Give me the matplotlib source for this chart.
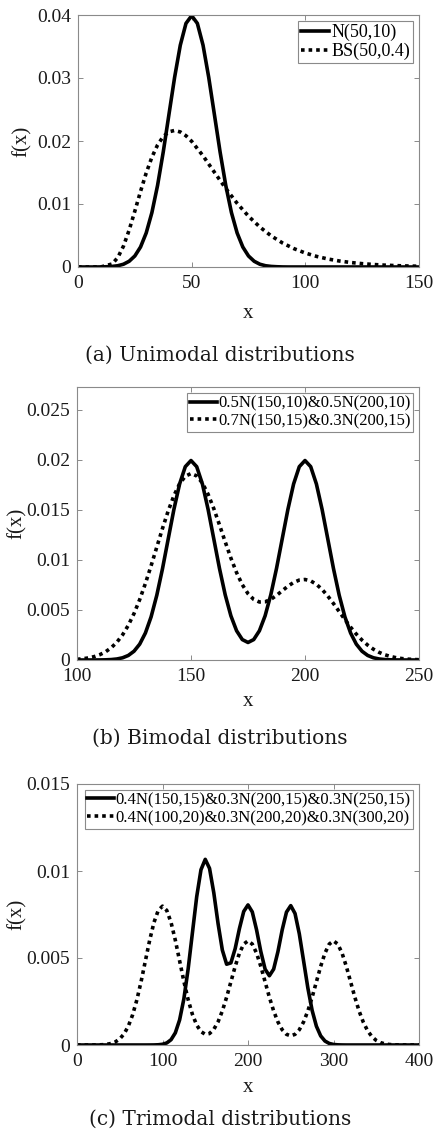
import numpy as np
import matplotlib
matplotlib.use("Agg")
import matplotlib.pyplot as plt

# ---------------- data ----------------
# (a) Unimodal
a_norm_x = np.arange(0, 150.01, 2.5)
a_norm_y = [0, 0, 0, 0, 0.00001, 0.00004, 0.00009, 0.0002, 0.00044, 0.00091,
            0.00175, 0.00317, 0.0054, 0.00863, 0.01295, 0.01826, 0.0242, 0.03011,
            0.03521, 0.03867, 0.03989, 0.03867, 0.03521, 0.03011, 0.0242, 0.01826,
            0.01295, 0.00863, 0.0054, 0.00317, 0.00175, 0.00091, 0.00044, 0.0002,
            0.00009, 0.00004, 0.00001] + [0] * 24
a_bs_x = [0, 5, 10, 15, 17.5, 20, 22.5, 25, 27.5, 30, 32.5, 35, 37.5, 40, 42.5, 45,
          47.5, 50, 55, 60, 65, 70, 75, 80, 85, 90, 95, 100, 105, 110, 115, 120,
          125, 130, 135, 140, 145, 150]
a_bs_y = [0, 0, 0.000006, 0.000479, 0.001496, 0.003314, 0.005862, 0.008869,
          0.011993, 0.014922, 0.017426, 0.019371, 0.020711, 0.02146, 0.021675,
          0.021437, 0.020832, 0.019947, 0.017646, 0.01504, 0.012465, 0.01011,
          0.008063, 0.006343, 0.004935, 0.003807, 0.002914, 0.002217, 0.001678,
          0.001265, 0.00095, 0.000711, 0.00053, 0.000395, 0.000293, 0.000217,
          0.000161, 0.000119]
a_labels = ["N(50,10)", "BS(50,0.4)"]

# (b) Bimodal
b_x = np.arange(100, 250.01, 2.5)
b_solid_y = [0, 0, 0.0000008, 0.0000024, 0.0000067, 0.0000176, 0.0000437, 0.0001015,
             0.0002216, 0.0004546, 0.0008765, 0.001587, 0.0027, 0.004314, 0.006476,
             0.009132, 0.012098, 0.015057, 0.017603, 0.019333, 0.019947, 0.019333,
             0.017604, 0.015059, 0.012105, 0.00915, 0.00652, 0.004416, 0.002922,
             0.002042, 0.001753,
             0.002042, 0.002922, 0.004416, 0.00652, 0.00915, 0.012105, 0.015059,
             0.017604, 0.019333, 0.019947, 0.019333, 0.017603, 0.015057, 0.012098,
             0.009132, 0.006476, 0.004314, 0.0027, 0.001587, 0.000877, 0.000455,
             0.000222, 0.000102, 0.000044, 0.000018, 0.0000067, 0.0000024,
             0.0000008, 0, 0]
b_dot_y = [0.000072, 0.000124, 0.000207, 0.000336, 0.000532, 0.000818, 0.001224,
           0.001781, 0.00252, 0.003468, 0.004642, 0.006044, 0.007654, 0.009426,
           0.011293, 0.013157, 0.01491, 0.016434, 0.017621, 0.018377, 0.018648,
           0.018413, 0.0177, 0.016573, 0.015135, 0.013507, 0.011816, 0.010189,
           0.008734, 0.00753, 0.006632,
           0.006058, 0.0058, 0.005821, 0.006063, 0.006456, 0.006921, 0.007378,
           0.007754, 0.007993, 0.008051, 0.007909, 0.00757, 0.007053, 0.006395,
           0.005641, 0.004841, 0.004041, 0.00328, 0.00259, 0.00199, 0.001486,
           0.00108, 0.000763, 0.000524, 0.000351, 0.000228, 0.000144, 0.000089,
           0.000053, 0.000031]
b_labels = ["0.5N(150,10)&0.5N(200,10)", "0.7N(150,15)&0.3N(200,15)"]

# (c) Trimodal
c_x = np.arange(0, 400.01, 5)
c_solid_y = [0] * 17 + [
    0.000001, 0.0000036, 0.0000128, 0.0000411, 0.000118, 0.000304, 0.000699,
    0.00144, 0.002653, 0.004373, 0.006453, 0.008521, 0.010073, 0.010669,
    0.010152, 0.008746, 0.006976, 0.005453, 0.004643, 0.00472, 0.005539,
    0.006696, 0.007675, 0.008051, 0.007649, 0.006621, 0.005365, 0.00436,
    0.003979, 0.00436, 0.005364, 0.006617, 0.007636, 0.00801, 0.007557,
    0.006392, 0.00484, 0.00328, 0.00199, 0.00108, 0.000524, 0.000228,
    0.0000887, 0.0000309, 0.0000096, 0.0000027] + [0] * 18
c_dot_y = [0, 0, 0] + [
    0.000001, 0.0000027, 0.0000071, 0.0000175, 0.0000406, 0.0000886, 0.000182,
    0.000351, 0.000635, 0.00108, 0.001726, 0.00259, 0.003653, 0.004839, 0.006023,
    0.007041, 0.007733, 0.007979, 0.007733, 0.007042, 0.006023, 0.004841,
    0.003658, 0.002603, 0.001756, 0.001146, 0.000771, 0.000614, 0.000658,
    0.000899, 0.001335, 0.00196, 0.002747, 0.003632, 0.004518, 0.005281, 0.0058,
    0.005984, 0.0058, 0.005281, 0.004518, 0.003632, 0.002745, 0.001956, 0.001325,
    0.000876, 0.000613, 0.000526, 0.000613, 0.000876, 0.001325, 0.001956,
    0.002745, 0.003632, 0.004518, 0.005281, 0.0058, 0.005984, 0.0058, 0.005281,
    0.004517, 0.00363, 0.00274, 0.001943, 0.001294, 0.00081, 0.000476, 0.000263,
    0.000136, 0.0000665, 0.0000305, 0.0000131, 0.0000053, 0.000002] + [0] * 4
c_labels = ["0.4N(150,15)&0.3N(200,15)&0.3N(250,15)",
            "0.4N(100,20)&0.3N(200,20)&0.3N(300,20)"]

a_xticks = [0, 50, 100, 150]
a_yticks = [0, 0.01, 0.02, 0.03, 0.04]
a_ytl = ["0", "0.01", "0.02", "0.03", "0.04"]
b_xticks = [100, 150, 200, 250]
b_yticks = [0, 0.005, 0.01, 0.015, 0.02, 0.025]
b_ytl = ["0", "0.005", "0.01", "0.015", "0.02", "0.025"]
c_xticks = [0, 100, 200, 300, 400]
c_yticks = [0, 0.005, 0.01, 0.015]
c_ytl = ["0", "0.005", "0.01", "0.015"]
captions = ["(a) Unimodal distributions", "(b) Bimodal distributions",
            "(c) Trimodal distributions"]

# ---------------- drawing ----------------
W, H = 436, 1131
fig = plt.figure(figsize=(W / 100, H / 100), dpi=100)
serif = "Liberation Serif"
GRAY = "#8a8a8a"
TXT = "#1a1a1a"


def px_axes(l, t, r, b):
    return fig.add_axes([l / W, 1 - b / H, (r - l) / W, (b - t) / H])


def style(ax, xlim, ylim, xt, yt, ytl):
    ax.set_xlim(*xlim)
    ax.set_ylim(*ylim)
    ax.set_xticks(xt)
    ax.set_xticklabels([str(v) for v in xt])
    ax.set_yticks(yt)
    ax.set_yticklabels(ytl)
    for s in ax.spines.values():
        s.set_color(GRAY)
        s.set_linewidth(0.8)
    ax.tick_params(direction="in", top=True, right=True, length=3.5, width=0.7,
                   color=GRAY, labelsize=14, labelcolor=TXT)
    ax.tick_params(axis="x", pad=6)
    ax.tick_params(axis="y", pad=5)
    for lab in ax.get_xticklabels() + ax.get_yticklabels():
        lab.set_family(serif)


LW = 2.6
DOT = (0, (1, 1.1))


def legend(ax, labels, fs):
    lg = ax.legend(labels, loc="upper right", prop={"family": serif, "size": fs},
                   frameon=True, fancybox=False, framealpha=1, edgecolor=GRAY,
                   borderpad=0.15, labelspacing=0.1, handlelength=1.6,
                   handletextpad=0.1, borderaxespad=0.35)
    lg.get_frame().set_linewidth(0.8)


panels = [(78, 15, 419, 267), (77, 387, 419, 660), (77, 784, 419, 1045)]

# (a)
axa = px_axes(*panels[0])
axa.plot(a_norm_x, a_norm_y, color="black", lw=LW)
axa.plot(a_bs_x, a_bs_y, color="black", lw=LW, linestyle=DOT, dash_capstyle="butt")
style(axa, (0, 150), (0, 0.04), a_xticks, a_yticks, a_ytl)
legend(axa, a_labels, 13)

# (b)
axb = px_axes(*panels[1])
axb.plot(b_x, b_solid_y, color="black", lw=LW)
axb.plot(b_x, b_dot_y, color="black", lw=LW, linestyle=DOT, dash_capstyle="butt")
style(axb, (100, 250), (0, 0.0273), b_xticks, b_yticks, b_ytl)
legend(axb, b_labels, 12)

# (c)
axc = px_axes(*panels[2])
axc.plot(c_x, c_solid_y, color="black", lw=LW)
axc.plot(c_x, c_dot_y, color="black", lw=LW, linestyle=DOT, dash_capstyle="butt")
style(axc, (0, 400), (0, 0.015), c_xticks, c_yticks, c_ytl)
legend(axc, c_labels, 12)

# axis labels and captions
xlab_y = [313, 702, 1088]
cap_y = [355, 738, 1119]
ylab_x = [22, 17, 17]
for box, xy, yx in zip(panels, xlab_y, ylab_x):
    l, t, r, b = box
    fig.text((l + r) / 2 / W, 1 - xy / H, "x", ha="center", va="center",
             family=serif, size=15, color=TXT)
    fig.text(yx / W, 1 - (t + b) / 2 / H, "f(x)", ha="center", va="center",
             rotation=90, family=serif, size=15, color=TXT)
for cap, cy in zip(captions, cap_y):
    fig.text(220 / W, 1 - cy / H, cap, ha="center", va="center",
             family="DejaVu Serif", size=14.5, color=TXT)

fig.savefig("out.png", dpi=100)
